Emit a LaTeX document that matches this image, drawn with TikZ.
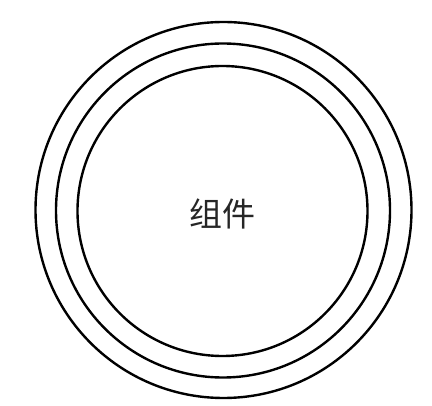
\documentclass[tikz,border=0pt]{standalone}
\usepackage{fontspec}
\newfontfamily\cjk{Noto Sans CJK SC}

\begin{document}
\begin{tikzpicture}[x=1pt, y=-1pt,
  ring/.style={draw, circle, line width=2.4pt, inner sep=0pt}]

  \useasboundingbox (0,0) rectangle (432,406);

  \node[ring, minimum size=376pt] (outer) at (223.5,210) {};
  \node[ring, minimum size=334pt] (middle) at (223,210.5) {};
  \node[ring, minimum size=290pt] (inner) at (222.5,211) {};

  \node[text=black!85, font=\cjk\fontsize{33}{33}\selectfont] (label) at (222,214) {组件};

\end{tikzpicture}
\end{document}
